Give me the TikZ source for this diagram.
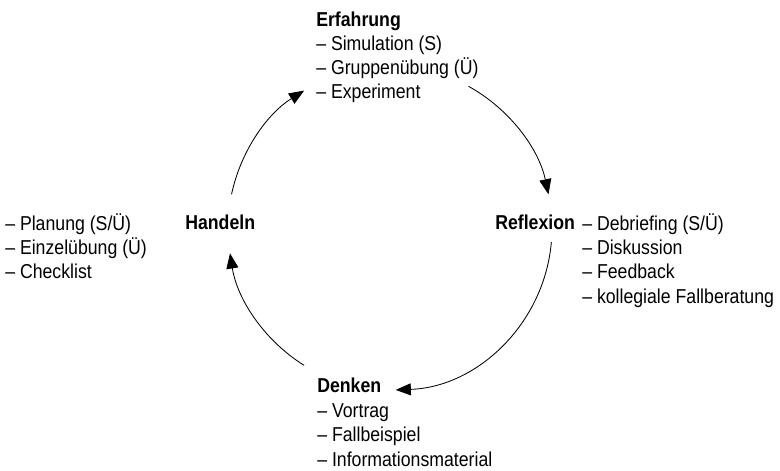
\documentclass[tikz,border=0pt]{standalone}
\usepackage{fontspec}
\setmainfont[FakeStretch=0.88]{Liberation Sans}
\usetikzlibrary{arrows.meta}
\tikzset{
  stage/.style={font=\fontsize{14.3}{17.4}\selectfont\bfseries, inner sep=0pt, anchor=base west},
  items/.style={font=\fontsize{14.3}{17.4}\selectfont, inner sep=0pt, anchor=base west, align=left},
  cyc/.style={->, line width=0.6pt}
}
\begin{document}
\begin{tikzpicture}[>={Triangle[length=3.8mm,width=3mm]}]
  \useasboundingbox (0,0) rectangle (19.5,11.775);
  \coordinate (ctr) at (9.75,6.075);
  % Stationen (Listen: Basislinie der letzten Zeile)
  \node[stage] (erf) at (7.9,11.12) {Erfahrung};
  \node[items] (erfL) at (7.9,9.3) {– Simulation (S)\\– Gruppenübung (Ü)\\– Experiment};
  \node[stage] (refl) at (12.375,6.03) {Reflexion};
  \node[items] (reflL) at (14.55,4.19) {– Debriefing (S/Ü)\\– Diskussion\\– Feedback\\– kollegiale Fallberatung};
  \node[stage] (denk) at (7.925,1.95) {Denken};
  \node[items] (denkL) at (7.925,0.12) {– Vortrag\\– Fallbeispiel\\– Informationsmaterial};
  \node[stage] (hand) at (4.625,6.03) {Handeln};
  \node[items] (handL) at (0.125,4.8) {– Planung (S/Ü)\\– Einzelübung (Ü)\\– Checklist};
  % Kreislauf
  \draw[cyc] ([shift={(168:4.05)}]ctr) arc[start angle=168,end angle=122,radius=4.05];
  \draw[cyc] ([shift={(61:4.05)}]ctr) arc[start angle=61,end angle=12,radius=4.05];
  \draw[cyc] ([shift={(-5:4.05)}]ctr) arc[start angle=-5,end angle=-88,radius=4.05];
  \draw[cyc] ([shift={(-122:4.05)}]ctr) arc[start angle=-122,end angle=-171,radius=4.05];
\end{tikzpicture}
\end{document}
